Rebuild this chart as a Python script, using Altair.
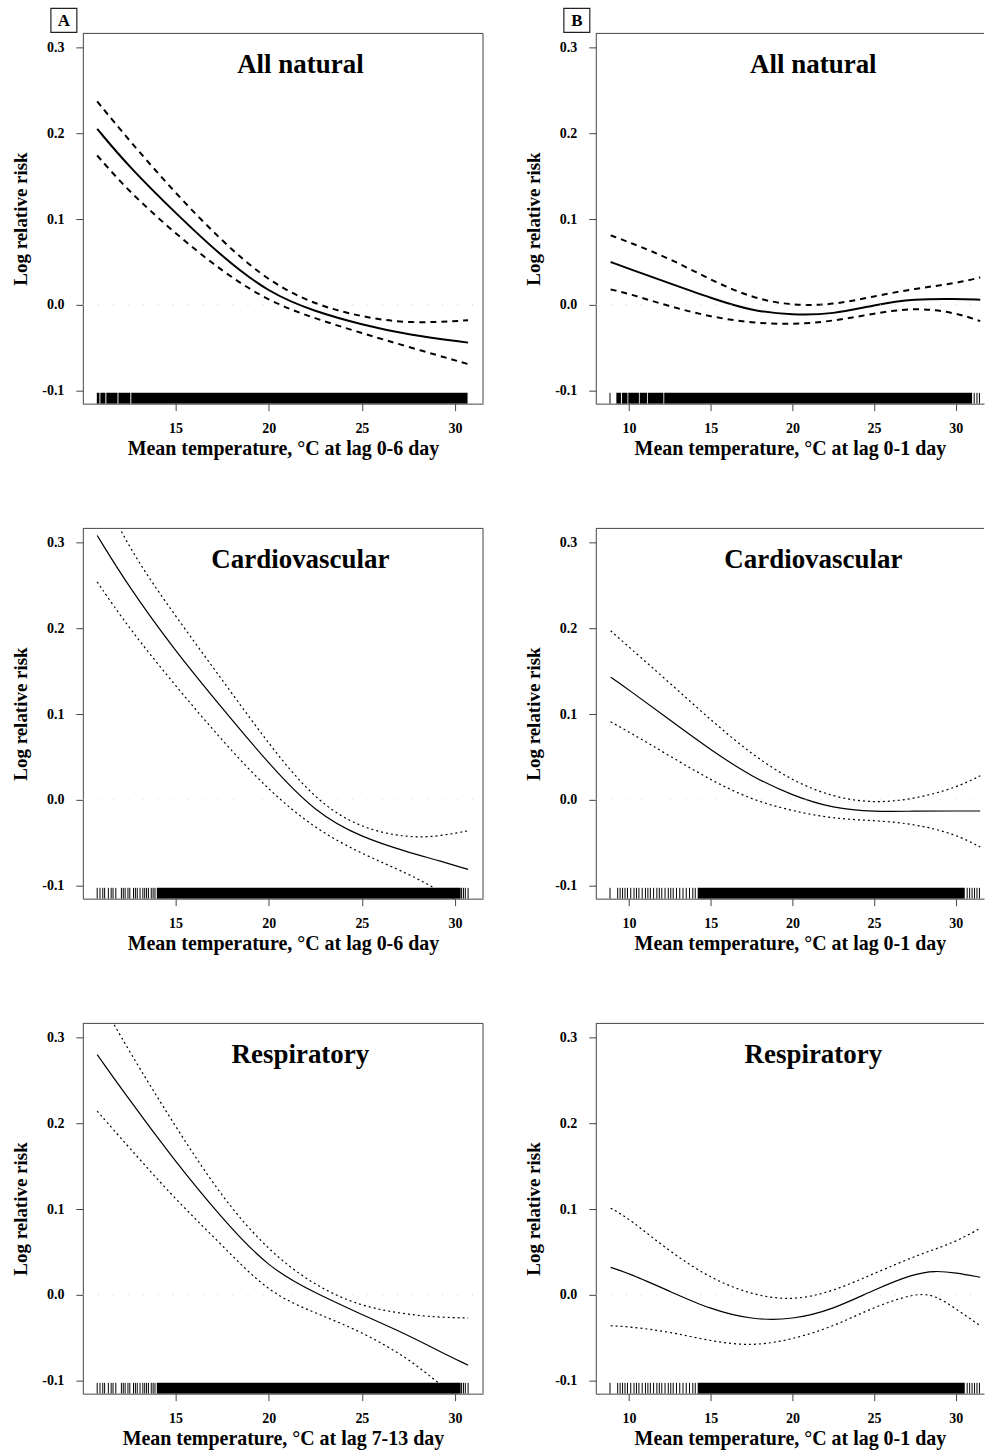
import altair as alt
import pandas as pd

FONT = "Liberation Serif"
Y_MIN, Y_MAX = -0.1151, 0.3163
RUG_TOP = -0.1025
Y_TICKS = [-0.1, 0.0, 0.1, 0.2, 0.3]

X_LEFT = [10.03, 31.5]
X_RIGHT = [7.96, 31.73]
TICKS_LEFT = [15, 20, 25, 30]
TICKS_RIGHT = [10, 15, 20, 25, 30]

# ---- exposure-response curves (log RR with 95% CI) ----
# A: all natural, lag 0-6
a1_t = [10.8, 12.5, 15, 17.5, 20, 22.5, 25, 27.5, 30.7]
a1_fit = [0.205, 0.161, 0.107, 0.056, 0.014, -0.008, -0.023, -0.035, -0.044]
a1_hi = [0.237, 0.192, 0.130, 0.074, 0.027, 0.000, -0.014, -0.022, -0.018]
a1_lo = [0.174, 0.132, 0.083, 0.039, 0.004, -0.016, -0.033, -0.049, -0.069]

# A: cardiovascular, lag 0-6
a2_t = [10.8, 12.5, 15, 17.5, 20, 22.5, 25, 27.5, 29, 30.7]
a2_fit = [0.308, 0.248, 0.173, 0.107, 0.042, -0.015, -0.044, -0.061, -0.070, -0.081]
a2_hi = [0.37, 0.292, 0.214, 0.140, 0.065, -0.001, -0.034, -0.044, -0.043, -0.036]
a2_lo = [0.254, 0.200, 0.133, 0.069, 0.011, -0.034, -0.063, -0.086, -0.104, -0.125]

# A: respiratory, lag 7-13
a3_t = [10.8, 12.5, 15, 17.5, 20, 22.5, 25, 27.5, 29, 30.7]
a3_fit = [0.280, 0.228, 0.155, 0.089, 0.031, 0.002, -0.023, -0.047, -0.064, -0.082]
a3_hi = [0.35, 0.284, 0.196, 0.113, 0.051, 0.010, -0.014, -0.023, -0.026, -0.027]
a3_lo = [0.214, 0.172, 0.111, 0.058, 0.002, -0.021, -0.043, -0.074, -0.101, -0.130]

# B: all natural, lag 0-1
b1_t = [8.87, 10, 12.5, 15, 17.5, 20, 22.5, 25, 27.5, 30, 31.5]
b1_fit = [0.050, 0.042, 0.025, 0.008, -0.007, -0.012, -0.011, 0.000, 0.007, 0.007, 0.006]
b1_hi = [0.081, 0.073, 0.054, 0.029, 0.008, -0.001, 0.000, 0.010, 0.019, 0.025, 0.032]
b1_lo = [0.018, 0.013, -0.002, -0.014, -0.021, -0.023, -0.019, -0.010, -0.003, -0.009, -0.019]

# B: cardiovascular, lag 0-1
b2_t = [8.87, 10, 12.5, 15, 17.5, 20, 22.5, 25, 27.5, 30, 31.5]
b2_fit = [0.143, 0.128, 0.093, 0.058, 0.027, 0.005, -0.010, -0.014, -0.013, -0.013, -0.013]
b2_hi = [0.197, 0.178, 0.136, 0.093, 0.053, 0.022, 0.003, -0.004, 0.001, 0.014, 0.028]
b2_lo = [0.091, 0.079, 0.051, 0.023, 0.000, -0.013, -0.022, -0.024, -0.028, -0.040, -0.055]

# B: respiratory, lag 0-1
b3_t = [8.87, 10, 12.5, 15, 17.5, 20, 22.5, 25, 27.5, 28.7, 30, 31.5]
b3_fit = [0.032, 0.025, 0.004, -0.017, -0.029, -0.029, -0.017, 0.006, 0.025, 0.028, 0.026, 0.0205]
b3_hi = [0.101, 0.089, 0.050, 0.019, 0.000, -0.007, 0.004, 0.025, 0.045, 0.053, 0.062, 0.0775]
b3_lo = [-0.036, -0.037, -0.043, -0.054, -0.060, -0.052, -0.037, -0.014, 0.002, 0.000, -0.016, -0.036]

# ---- rug of observed daily temperatures: isolated ticks and solid runs ----
rug_a1_ticks = []
rug_a1_runs = [(10.78, 10.92), (10.97, 11.24), (11.29, 11.89), (11.94, 12.58), (12.63, 30.67)]
rug_a_ticks = [10.8, 10.95, 11.1, 11.2, 11.4, 11.55, 11.65, 11.8, 12.1, 12.2, 12.3,
               12.45, 12.55, 12.75, 12.85, 12.95, 13.1, 13.25, 13.35, 13.45, 13.55,
               13.7, 13.8, 13.9, 30.35, 30.45, 30.55, 30.7]
rug_a_runs = [(14.0, 30.3)]
rug_b1_ticks = [8.83, 31.13, 31.3, 31.45]
rug_b1_runs = [(9.22, 9.5), (9.56, 9.9), (9.95, 10.6), (10.65, 11.1), (11.15, 12.1), (12.15, 31.0)]
rug_b_ticks = [8.83, 9.3, 9.45, 9.6, 9.75, 9.9, 10.1, 10.3, 10.45, 10.6, 10.8, 11.0,
               11.15, 11.3, 11.5, 11.7, 11.85, 12.0, 12.2, 12.4, 12.55, 12.7, 12.9,
               13.1, 13.3, 13.5, 13.7, 13.9, 14.05, 30.7, 30.85, 31.0, 31.15, 31.3, 31.45]
rug_b_runs = [(14.2, 30.55)]

INK = "#000000"
FRAME = "#444444"


def panel(t, fit, lo, hi, ticks, runs, title, xtitle, xdom, xticks, width,
          heavy, letter=None, right_border=True):
    curve = pd.DataFrame({"T": t, "fit": fit, "lo": lo, "hi": hi})
    xs = alt.Scale(domain=xdom, nice=False, zero=False)
    ys = alt.Scale(domain=[Y_MIN, Y_MAX], nice=False, zero=False)

    x_axis = alt.Axis(values=xticks, title=xtitle, format="d")
    y_axis = alt.Axis(
        values=Y_TICKS, title="Log relative risk", titleFontSize=19,
        labelExpr="replace(format(datum.value, '.1f'), '\u2212', '-')",
    )

    lw = 2.0 if heavy else 1.2
    dash = [6, 5] if heavy else [2, 3]

    base = alt.Chart(curve)
    fit_line = base.mark_line(color=INK, strokeWidth=lw, clip=True,
                              interpolate="basis").encode(
        x=alt.X("T:Q", scale=xs, axis=x_axis),
        y=alt.Y("fit:Q", scale=ys, axis=y_axis),
    )
    ci_lines = base.transform_fold(["lo", "hi"], as_=["bound", "v"]).mark_line(
        color=INK, strokeWidth=lw, strokeDash=dash, clip=True, interpolate="basis"
    ).encode(x="T:Q", y="v:Q", detail="bound:N")

    zero = alt.Chart(pd.DataFrame({"z": [0]})).mark_rule(
        color="#cfcfcf", strokeDash=[1, 14], strokeWidth=1
    ).encode(y="z:Q", x=alt.datum(xdom[0]), x2=alt.datum(xdom[1]))

    layers = [fit_line, ci_lines, zero]

    if ticks:
        rug_t = alt.Chart(pd.DataFrame({"T": ticks})).mark_rule(
            color=INK, strokeWidth=1, clip=True
        ).encode(x="T:Q", y=alt.datum(Y_MIN), y2=alt.datum(RUG_TOP))
        layers.append(rug_t)
    rug_r = alt.Chart(pd.DataFrame({"a": [r[0] for r in runs], "b": [r[1] for r in runs]})).mark_rect(
        color=INK, clip=True
    ).encode(x="a:Q", x2="b:Q", y=alt.datum(Y_MIN), y2=alt.datum(RUG_TOP))
    layers.append(rug_r)

    top = alt.Chart(pd.DataFrame({"k": [0]})).mark_rule(color=FRAME, strokeWidth=1).encode(
        y=alt.datum(Y_MAX), x=alt.datum(xdom[0]), x2=alt.datum(xdom[1])
    )
    layers.append(top)
    if right_border:
        rb = alt.Chart(pd.DataFrame({"k": [0]})).mark_rule(color=FRAME, strokeWidth=1).encode(
            x=alt.datum(xdom[1]), y=alt.datum(Y_MIN), y2=alt.datum(Y_MAX)
        )
        layers.append(rb)

    one = pd.DataFrame({"k": [0]})
    ttl = alt.Chart(one).mark_text(
        text=title, font=FONT, fontWeight="bold", fontSize=27, color=INK,
        align="center", baseline="alphabetic"
    ).encode(x=alt.value(218), y=alt.value(40))
    layers.append(ttl)

    if letter:
        box = alt.Chart(one).mark_rect(fill="white", stroke="#222222", strokeWidth=1.2).encode(
            x=alt.value(-32), x2=alt.value(-6), y=alt.value(-25), y2=alt.value(-1)
        )
        let = alt.Chart(one).mark_text(
            text=letter, font=FONT, fontWeight="bold", fontSize=17, color=INK,
            align="center", baseline="middle"
        ).encode(x=alt.value(-19), y=alt.value(-12))
        layers += [box, let]

    return alt.layer(*layers).properties(
        width=width, height=371, view=alt.ViewBackground(stroke=None)
    )


XT_06 = "Mean temperature, \u00b0C at lag 0-6 day"
XT_713 = "Mean temperature, \u00b0C at lag 7-13 day"
XT_01 = "Mean temperature, \u00b0C at lag 0-1 day"

pA1 = panel(a1_t, a1_fit, a1_lo, a1_hi, rug_a1_ticks, rug_a1_runs, "All natural", XT_06,
            X_LEFT, TICKS_LEFT, 401, True, letter="A")
pB1 = panel(b1_t, b1_fit, b1_lo, b1_hi, rug_b1_ticks, rug_b1_runs, "All natural", XT_01,
            X_RIGHT, TICKS_RIGHT, 389, True, letter="B", right_border=False)
pA2 = panel(a2_t, a2_fit, a2_lo, a2_hi, rug_a_ticks, rug_a_runs, "Cardiovascular", XT_06,
            X_LEFT, TICKS_LEFT, 401, False)
pB2 = panel(b2_t, b2_fit, b2_lo, b2_hi, rug_b_ticks, rug_b_runs, "Cardiovascular", XT_01,
            X_RIGHT, TICKS_RIGHT, 389, False, right_border=False)
pA3 = panel(a3_t, a3_fit, a3_lo, a3_hi, rug_a_ticks, rug_a_runs, "Respiratory", XT_713,
            X_LEFT, TICKS_LEFT, 401, False)
pB3 = panel(b3_t, b3_fit, b3_lo, b3_hi, rug_b_ticks, rug_b_runs, "Respiratory", XT_01,
            X_RIGHT, TICKS_RIGHT, 389, False, right_border=False)

chart = alt.vconcat(
    alt.hconcat(pA1, pB1, spacing=40),
    alt.hconcat(pA2, pB2, spacing=40),
    alt.hconcat(pA3, pB3, spacing=40),
    spacing=69,
).properties(
    padding={"left": 11, "top": 6, "right": 0, "bottom": 0},
    background="white",
).configure_axis(
    labelFont=FONT, labelFontWeight="bold", labelFontSize=14, labelColor=INK,
    titleFont=FONT, titleFontWeight="bold", titleFontSize=20, titleColor=INK,
    tickSize=7, tickColor=FRAME, domainColor=FRAME, grid=False,
).configure_axisY(
    labelPadding=12, titlePadding=11,
).configure_axisX(
    labelPadding=11, titlePadding=3,
).configure_view(stroke=None)

chart.save("out.html", embed_options={"renderer": "svg", "actions": False})
